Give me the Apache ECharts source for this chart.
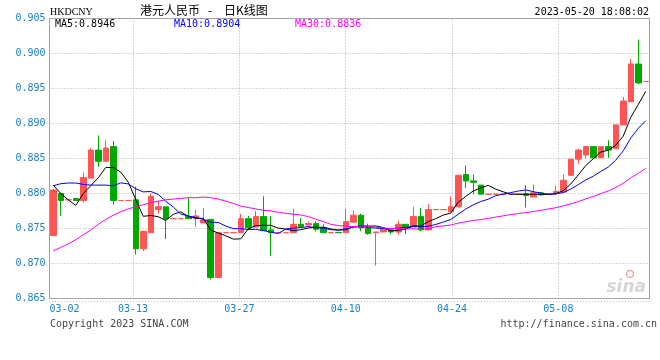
<!DOCTYPE html>
<html><head><meta charset="utf-8">
<script src="https://cdn.jsdelivr.net/npm/echarts@6/dist/echarts.min.js"></script>
<style>html,body{margin:0;padding:0;background:#fff}#c{width:660px;height:360px}</style>
</head><body><div id="c"></div>
<script>
const dates = [
 '03-02','03-03','03-04','03-05','03-06','03-07','03-08','03-09','03-10','03-11',
 '03-12','03-13','03-14','03-15','03-16','03-17','03-18','03-19','03-20','03-21',
 '03-22','03-23','03-24','03-25','03-26','03-27','03-28','03-29','03-30','03-31',
 '04-01','04-02','04-03','04-04','04-05','04-06','04-07','04-08','04-09','04-10',
 '04-11','04-12','04-13','04-14','04-15','04-16','04-17','04-18','04-19','04-20',
 '04-21','04-22','04-23','04-24','04-25','04-26','04-27','04-28','04-29','04-30',
 '05-01','05-02','05-03','05-04','05-05','05-06','05-07','05-08','05-09','05-10',
 '05-11','05-12','05-13','05-14','05-15','05-16','05-17','05-18','05-19','05-20'];
const tickDates = ['03-02','03-13','03-27','04-10','04-24','05-08'];
const yTicks = [0.865,0.870,0.875,0.880,0.885,0.890,0.895,0.900,0.905];

const openV = [
 0.8740,0.8800,0.8791,0.8793,0.8790,0.8822,0.8862,0.8846,0.8867,0.8790,
 0.8790,0.8791,0.8721,0.8744,0.8777,0.8781,0.8764,0.8764,0.8767,0.8764,
 0.8758,0.8763,0.8680,0.8744,0.8744,0.8744,0.8764,0.8752,0.8767,0.8748,
 0.8744,0.8744,0.8744,0.8756,0.8755,0.8757,0.8751,0.8744,0.87445,0.8744,
 0.8759,0.8769,0.8750,0.8744,0.8745,0.8748,0.8745,0.8756,0.8752,0.8767,
 0.8748,0.8777,0.8777,0.8774,0.8781,0.8827,0.8818,0.8812,0.8799,0.8799,
 0.8799,0.8799,0.8799,0.8800,0.8795,0.8801,0.8799,0.8800,0.8802,0.8826,
 0.8849,0.8855,0.8867,0.8851,0.8867,0.8864,0.8898,0.8931,0.8985,0.8960];
const closeV = [
 0.8805,0.8790,0.8791,0.8790,0.8823,0.8862,0.8846,0.8865,0.8790,0.8790,
 0.8790,0.8721,0.8746,0.8796,0.8781,0.8764,0.8764,0.8764,0.8764,0.8768,
 0.8762,0.8680,0.8744,0.8744,0.8744,0.8764,0.8751,0.8767,0.8747,0.8744,
 0.8744,0.8744,0.8756,0.8753,0.8757,0.8749,0.8744,0.8744,0.8744,0.8760,
 0.8769,0.8751,0.8743,0.8745,0.8749,0.8745,0.8756,0.8751,0.8767,0.8748,
 0.8777,0.8777,0.8777,0.8781,0.8826,0.8818,0.8816,0.8799,0.8799,0.8799,
 0.8799,0.8799,0.8799,0.8797,0.8801,0.8798,0.8799,0.8803,0.8819,0.8849,
 0.8862,0.8867,0.8851,0.8867,0.8862,0.8898,0.8932,0.8985,0.8958,0.8960];
const lowV = [
 0.8740,0.8768,0.8791,0.8790,0.8787,0.8822,0.8838,0.8846,0.8784,0.8790,
 0.8790,0.8713,0.8718,0.8744,0.8771,0.8735,0.8764,0.8764,0.8764,0.8752,
 0.8758,0.8677,0.8680,0.8744,0.8744,0.8744,0.8748,0.8752,0.8747,0.8711,
 0.8744,0.8744,0.8744,0.8751,0.8753,0.8746,0.8744,0.8744,0.8744,0.8744,
 0.8759,0.8746,0.8741,0.8697,0.8745,0.8742,0.8741,0.8742,0.8752,0.8746,
 0.8748,0.8777,0.8777,0.8774,0.8780,0.8808,0.8799,0.8799,0.8799,0.8799,
 0.8799,0.8799,0.8799,0.8780,0.8795,0.8797,0.8799,0.8800,0.8801,0.8826,
 0.8842,0.8850,0.8851,0.8851,0.8851,0.8864,0.8898,0.8931,0.8956,0.8960];
const highV = [
 0.8807,0.8801,0.8791,0.8793,0.8830,0.8865,0.8883,0.8876,0.8875,0.8790,
 0.8790,0.8810,0.8747,0.8800,0.8790,0.8781,0.8764,0.8764,0.8794,0.8777,
 0.8779,0.8763,0.8744,0.8744,0.8744,0.8771,0.8768,0.8775,0.8796,0.8768,
 0.8744,0.8744,0.8778,0.8765,0.8760,0.8760,0.8756,0.8744,0.87445,0.8778,
 0.8776,0.8771,0.8757,0.8745,0.8750,0.8748,0.8761,0.8756,0.8781,0.8779,
 0.8785,0.8777,0.8777,0.8796,0.8826,0.8840,0.8827,0.8812,0.8799,0.8799,
 0.8799,0.8799,0.8799,0.8812,0.8813,0.8802,0.8799,0.8811,0.8827,0.8849,
 0.8864,0.8867,0.8867,0.8867,0.8876,0.8898,0.8938,0.8992,0.9020,0.8960];
const ma5 = [
 0.8812,0.8800,0.8791,0.8783,0.87998,0.88112,0.88224,0.88372,0.88372,0.88306,
 0.88162,0.87912,0.87674,0.87686,0.87668,0.87616,0.87702,0.87738,0.87674,0.87648,
 0.87644,0.87476,0.87436,0.87396,0.87348,0.87352,0.87494,0.8754,0.87546,0.87546,
 0.87506,0.87492,0.8747,0.87482,0.87508,0.87518,0.87518,0.87494,0.87476,0.87482,
 0.87522,0.87536,0.87534,0.87536,0.87514,0.87466,0.87476,0.87492,0.87536,0.87534,
 0.87598,0.8764,0.87692,0.8772,0.87876,0.87958,0.88036,0.8808,0.88116,0.88062,
 0.88024,0.8799,0.8799,0.87986,0.8799,0.87988,0.87988,0.87996,0.8804,0.88136,
 0.88264,0.884,0.88496,0.88592,0.88618,0.8869,0.8882,0.89088,0.8927,0.8946];
const ma10 = [
 0.8811,0.8814,0.8815,0.8815,0.8813,0.8812,0.8812,0.8812,0.8811,0.88152,
 0.88137,0.88068,0.88023,0.88029,0.87987,0.87889,0.87807,0.87706,0.8768,0.87658,
 0.8763,0.87589,0.87587,0.87535,0.87498,0.87498,0.87485,0.87488,0.87471,0.87447,
 0.87429,0.87493,0.87505,0.87514,0.87527,0.87512,0.87505,0.87482,0.87479,0.87495,
 0.8752,0.87527,0.87514,0.87506,0.87498,0.87494,0.87506,0.87513,0.87536,0.87524,
 0.87532,0.87558,0.87592,0.87628,0.87705,0.87778,0.87838,0.87886,0.87918,0.87969,
 0.87991,0.88013,0.88035,0.88051,0.88026,0.88006,0.87989,0.87993,0.88013,0.88063,
 0.88126,0.88194,0.88246,0.88316,0.88377,0.88477,0.8861,0.88792,0.88931,0.8904];
const ma30 = [
 0.8718,0.8723,0.8728,0.8734,0.8741,0.8748,0.8756,0.8763,0.8769,0.8774,
 0.8778,0.8781,0.8784,0.8787,0.8789,0.8791,0.8792,0.8793,0.8794,0.8794,
 0.8795,0.8794,0.8792,0.8789,0.8786,0.8782,0.8780,0.8778,0.8776,0.87752,
 0.87732,0.87717,0.87705,0.87693,0.87671,0.87633,0.87599,0.87559,0.87543,0.87533,
 0.87526,0.87536,0.87535,0.87518,0.87508,0.87501,0.87499,0.87494,0.87495,0.87489,
 0.87494,0.87526,0.87537,0.87549,0.87577,0.87595,0.87616,0.87627,0.87644,0.87663,
 0.87681,0.87699,0.87714,0.87728,0.87743,0.87759,0.87778,0.87797,0.87822,0.87852,
 0.87883,0.87922,0.87958,0.87998,0.88036,0.88087,0.88146,0.88224,0.88287,0.8836];

const UP = '#ff5555', DOWN = '#00a800';
const MONO = '"DejaVu Sans Mono", monospace';
const LABEL_BLUE = '#1a80cc';
const GRIDC = '#b0b0b0';

const kData = dates.map((d, i) => [openV[i], closeV[i], lowV[i], highV[i]]);
const last = (a) => a[a.length - 1].toFixed(4);

const chart = echarts.init(document.getElementById('c'), null, {renderer: 'canvas'});
chart.setOption({
  animation: false,
  backgroundColor: '#fff',
  grid: {left: 49.5, right: 10.5, top: 18.5, bottom: 61.5, show: true,
         borderColor: '#a0a0a0', borderWidth: 1, backgroundColor: 'transparent'},
  xAxis: [
    {type: 'category', data: dates, boundaryGap: true, show: true,
     axisLine: {show: false}, axisTick: {show: false}, axisLabel: {show: false},
     splitLine: {show: false}},
    {type: 'category', data: dates, boundaryGap: false, position: 'bottom',
     axisLine: {show: false}, axisTick: {show: false},
     axisLabel: {show: true, color: LABEL_BLUE, fontFamily: MONO, fontSize: 10, margin: 6,
       interval: (idx, val) => tickDates.includes(val), alignMinLabel: 'left'},
     splitLine: {show: true, interval: (idx, val) => idx > 0 && tickDates.includes(val),
       lineStyle: {color: GRIDC, width: 1, type: [1, 2]}}}
  ],
  yAxis: {
    type: 'value', min: yTicks[0], max: yTicks[yTicks.length - 1], interval: 0.005,
    axisLine: {show: false}, axisTick: {show: false},
    axisLabel: {color: LABEL_BLUE, fontFamily: MONO, fontSize: 10, margin: 4,
      formatter: (v) => v.toFixed(3)},
    splitLine: {show: true, lineStyle: {color: GRIDC, width: 1, type: [1, 2]}}
  },
  series: [
    {type: 'candlestick', name: 'K', xAxisIndex: 0, data: kData, barWidth: 6,
     itemStyle: {color: UP, color0: DOWN, borderColor: UP, borderColor0: DOWN,
       borderColorDoji: UP, borderWidth: 1}, silent: true},
    {type: 'line', name: 'MA5', xAxisIndex: 0, data: ma5, symbol: 'none', silent: true,
     lineStyle: {color: '#000000', width: 1}, z: 3},
    {type: 'line', name: 'MA10', xAxisIndex: 0, data: ma10, symbol: 'none', silent: true,
     lineStyle: {color: '#0000ff', width: 1}, z: 3},
    {type: 'line', name: 'MA30', xAxisIndex: 0, data: ma30, symbol: 'none', silent: true,
     lineStyle: {color: '#ff00ff', width: 1}, z: 3}
  ],
  graphic: [
    {type: 'text', x: 50, y: 12, style: {text: 'HKDCNY', font: '10px "Liberation Serif", serif', fill: '#000', align: 'left', verticalAlign: 'middle'}},
    {type: 'text', x: 140, y: 10, style: {text: '港元人民币', font: '12px "Noto Sans CJK SC", sans-serif', fill: '#000', align: 'left', verticalAlign: 'middle'}},
    {type: 'text', x: 210, y: 10, style: {text: '-', font: '12px "Noto Sans CJK SC", sans-serif', fill: '#000', align: 'center', verticalAlign: 'middle'}},
    {type: 'text', x: 224, y: 10, style: {text: '日K线图', font: '12px "Noto Sans CJK SC", sans-serif', fill: '#000', align: 'left', verticalAlign: 'middle'}},
    {type: 'text', x: 649, y: 12, style: {text: '2023-05-20 18:08:02', font: '10px ' + MONO, fill: '#000', align: 'right', verticalAlign: 'middle'}},
    {type: 'text', x: 55, y: 24, style: {text: 'MA5:' + last(ma5), font: '10px ' + MONO, fill: '#000', align: 'left', verticalAlign: 'middle'}},
    {type: 'text', x: 174, y: 24, style: {text: 'MA10:' + last(ma10), font: '10px ' + MONO, fill: '#0000ff', align: 'left', verticalAlign: 'middle'}},
    {type: 'text', x: 295, y: 24, style: {text: 'MA30:' + last(ma30), font: '10px ' + MONO, fill: '#ff00ff', align: 'left', verticalAlign: 'middle'}},
    {type: 'line', shape: {x1: 49, y1: 301.5, x2: 650, y2: 301.5}, style: {stroke: '#c0c0c0', lineWidth: 1, lineDash: [1, 2]}},
    {type: 'text', x: 50, y: 324, style: {text: 'Copyright 2023 SINA.COM', font: '10px ' + MONO, fill: '#444', align: 'left', verticalAlign: 'middle'}},
    {type: 'text', x: 657, y: 324, style: {text: 'http://finance.sina.com.cn', font: '10px ' + MONO, fill: '#444', align: 'right', verticalAlign: 'middle'}},
    {type: 'text', x: 646, y: 288, z: -1, style: {text: 'sina', font: 'italic bold 17px "DejaVu Sans", sans-serif', fill: '#d6d6d6', align: 'right', verticalAlign: 'middle'}},
    {type: 'circle', z: -1, shape: {cx: 630, cy: 274, r: 3.5}, style: {fill: 'none', stroke: '#eaa8a8', lineWidth: 1.5}}
  ]
});
</script></body></html>
